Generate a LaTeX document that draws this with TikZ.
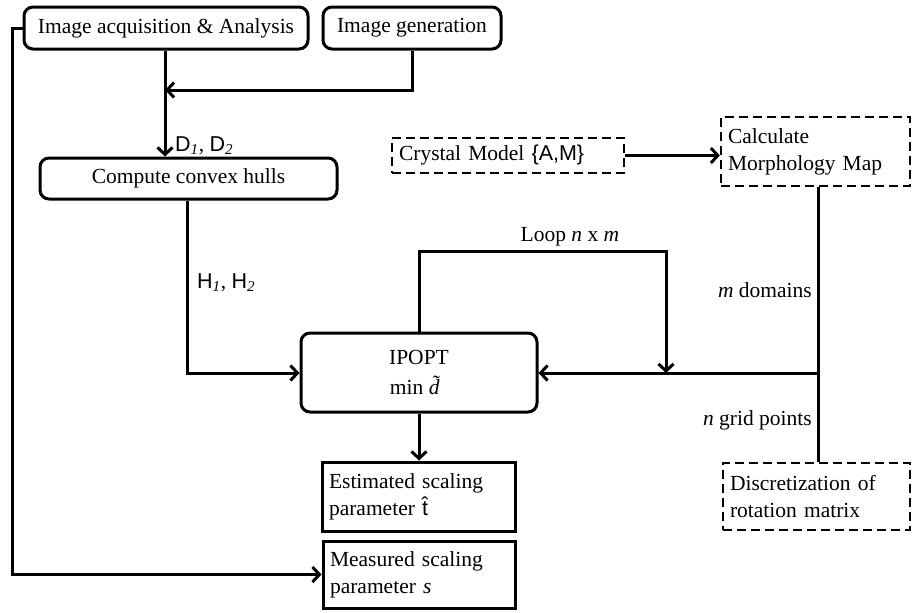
\documentclass[tikz,border=0pt]{standalone}
\usepackage{fontspec}
\setmainfont{Liberation Serif}
\setsansfont{Liberation Sans}
\usetikzlibrary{arrows.meta}
\begin{document}
\begin{tikzpicture}[x=1pt,y=-1pt,
  font=\fontsize{21.5}{27}\selectfont,
  rbox/.style={draw,line width=3pt,rounded corners=9pt,inner sep=0pt},
  sbox/.style={draw,line width=3pt,inner xsep=7pt,inner ysep=0pt,align=left,text width=#1},
  dbox/.style={draw,line width=2.2pt,dash pattern=on 9pt off 5pt,inner xsep=7pt,inner ysep=0pt,align=left,text width=#1},
  conn/.style={line width=3pt},
  arr/.style={line width=3pt,-{Straight Barb[length=7pt,width=15pt,line width=3pt]}},
  lab/.style={inner sep=0pt}
]
\useasboundingbox (0,0) rectangle (914,613);
\node[rbox,minimum width=284pt,minimum height=42pt] (acq) at (166,28) {Image acquisition \& Analysis};
\node[rbox,minimum width=178pt,minimum height=42pt] (gen) at (412,28) {Image generation};
\node[rbox,minimum width=297pt,minimum height=41pt] (hull) at (188.5,178.5) {Compute convex hulls};
\node[dbox=218pt,minimum height=35pt] (crys) at (508,155.5) {Crystal Model {\sffamily\{A,M\}}};
\node[dbox=175pt,minimum height=69pt] (calc) at (815.5,151.5) {Calculate\\Morphology Map};
\node[rbox,minimum width=236pt,minimum height=79pt,align=center] (ipopt) at (419,372.5) {IPOPT\\[3pt]min \textit{\~{d}}};
\node[sbox=179pt,minimum height=69pt] (est) at (418.5,496.5) {Estimated scaling\\parameter {\sffamily\^{t}}};
\node[sbox=178pt,minimum height=67pt] (meas) at (419,574.5) {Measured scaling\\parameter \textit{s}};
\node[dbox=173pt,minimum height=67pt] (disc) at (816.5,496.5) {Discretization of\\rotation matrix};

\coordinate (j1) at (165,90);
\coordinate (j2) at (818,373);
\coordinate (j3) at (666,373);

% acquisition -> hull, generation merges
\draw[conn] (acq.south -| j1) -- (j1);
\draw[arr] (gen.south) |- (j1);
\draw[arr] (j1) -- (j1 |- hull.north);
\node[lab,anchor=west] (dl) at (175,146) {{\sffamily D}\textsubscript{\itshape 1}, {\sffamily D}\textsubscript{\itshape 2}};

% hull -> ipopt
\draw[arr] (hull.south -| 187,0) |- (ipopt.west |- j2);
\node[lab,anchor=west] (hl) at (197,283) {{\sffamily H}\textsubscript{\itshape 1}, {\sffamily H}\textsubscript{\itshape 2}};

% crystal -> calc
\draw[arr] (crys.east) -- (calc.west |- crys.east);

% right vertical line
\draw[conn] (calc.south -| j2) -- (disc.north -| j2);
\draw[arr] (j2) -- (ipopt.east |- j2);
\node[lab,anchor=east] (ml) at (812,290) {\textit{m} domains};
\node[lab,anchor=east] (nl) at (812,420) {\textit{n} grid points};

% loop
\draw[arr] (ipopt.north) |- (666,251) -- (j3);
\node[lab] (ll) at (570,237) {Loop \textit{n} x \textit{m}};

% ipopt -> est
\draw[arr] (ipopt.south) -- (est.north -| ipopt.south);

% acq -> meas
\draw[arr] (acq.west) -- (12,28) |- (meas.west);
\end{tikzpicture}
\end{document}
